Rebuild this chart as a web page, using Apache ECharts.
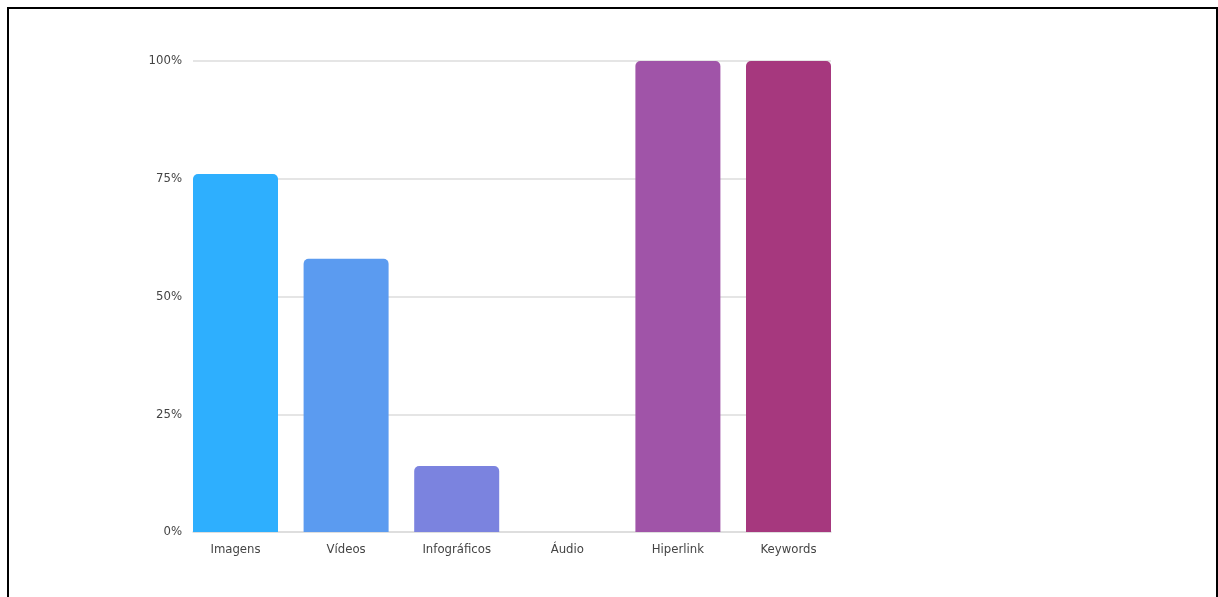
<!DOCTYPE html>
<html>
<head>
<meta charset="utf-8">
<script src="https://cdn.jsdelivr.net/npm/echarts@6/dist/echarts.min.js"></script>
<style>
  html, body { margin: 0; padding: 0; background: #fff; }
  #frame { position: absolute; left: 7px; top: 7px; width: 1207px; height: 600px; border-left: 2px solid #000; border-top: 2px solid #000; border-right: 2px solid #000; }
  #chart { position: absolute; left: 0; top: 0; width: 1218px; height: 597px; }
</style>
</head>
<body>
<div id="chart"></div>
<div id="frame"></div>
<script>
const categories = ['Imagens', 'Vídeos', 'Infográficos', 'Áudio', 'Hiperlink', 'Keywords'];
const values = [76, 58, 14, 0, 100, 100];
const barColors = ['#2eaffe', '#5b9bf0', '#7b83df', '#8f6fd0', '#a054a8', '#a6387e'];
const yTicks = [0, 25, 50, 75, 100];

const font = "'DejaVu Sans Condensed', 'Liberation Sans Narrow', 'Noto Sans', sans-serif";
const chart = echarts.init(document.getElementById('chart'), null, { renderer: 'canvas' });
chart.setOption({
  animation: false,
  grid: [
    { left: 180.2, right: 374.2, top: 61, bottom: 65 },
    { left: 193, right: 387, top: 61, bottom: 65 }
  ],
  xAxis: [
    {
      type: 'category', gridIndex: 0, data: categories,
      axisLine: { show: false }, axisTick: { show: false },
      axisLabel: { color: '#444', fontFamily: font, fontSize: 13, margin: 11 }
    },
    {
      type: 'category', gridIndex: 1, data: categories,
      axisLine: { show: true, lineStyle: { color: '#dcdcdc', width: 1.5 } },
      axisTick: { show: false }, axisLabel: { show: false }
    }
  ],
  yAxis: [
    { type: 'value', gridIndex: 0, min: 0, max: 100, interval: 25, show: false, splitLine: { show: false } },
    {
      type: 'value', gridIndex: 1, min: 0, max: 100, interval: 25,
      axisLine: { show: false }, axisTick: { show: false },
      axisLabel: { color: '#444', fontFamily: font, fontSize: 13, margin: 11,
        formatter: v => yTicks.includes(v) ? v + '%' : '' },
      splitLine: { lineStyle: { color: '#dcdcdc', width: 1.5 } }
    }
  ],
  series: [{
    type: 'bar', xAxisIndex: 0, yAxisIndex: 0,
    data: values.map((v, i) => ({ value: v, itemStyle: { color: barColors[i] } })),
    barWidth: 85,
    z: 3,
    itemStyle: { borderRadius: [5, 5, 0, 0] }
  }]
});
</script>
</body>
</html>
